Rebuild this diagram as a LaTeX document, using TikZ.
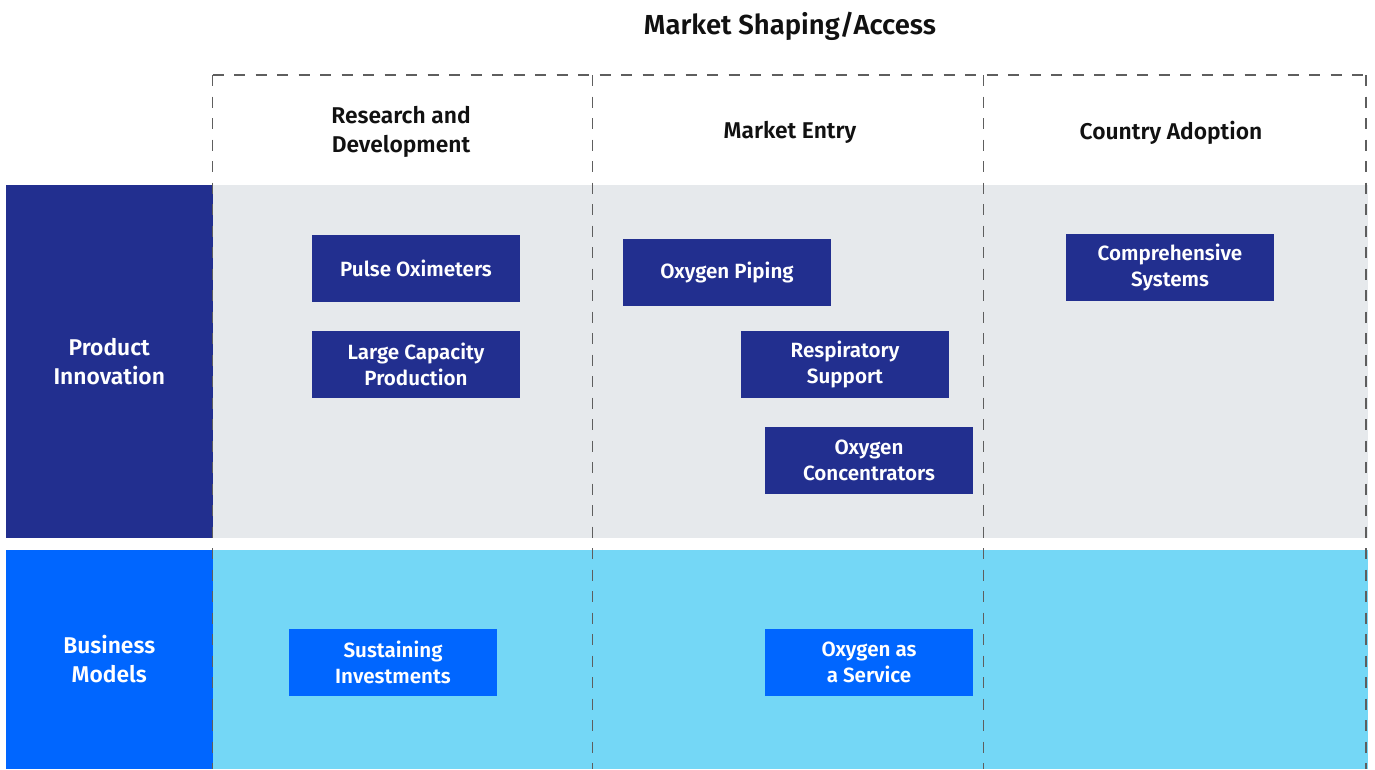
\documentclass[tikz,border=0pt]{standalone}
\usepackage{fontspec}
\setmainfont{Fira Sans}[BoldFont={Fira Sans SemiBold}]
\definecolor{navy}{HTML}{222F8F}
\definecolor{bluebm}{HTML}{0066FF}
\definecolor{cyanband}{HTML}{74D7F6}
\definecolor{greyband}{HTML}{E6E9EC}
\definecolor{dashgrey}{HTML}{5E5E5E}
\definecolor{inkblack}{HTML}{111111}
\tikzset{
  itembox/.style={minimum width=208pt, minimum height=67pt, inner sep=0pt, align=center,
    text=white, font=\bfseries\fontsize{20.6}{26}\selectfont},
  navyitem/.style={itembox, fill=navy},
  blueitem/.style={itembox, fill=bluebm},
  rowbox/.style={minimum width=206.5pt, inner sep=0pt, align=center, text=white,
    font=\bfseries\fontsize{22.8}{29}\selectfont},
  header/.style={align=center, text=inkblack, font=\bfseries\fontsize{22.8}{29}\selectfont},
  dashline/.style={draw=dashgrey, line width=1.3pt, dash pattern=on 11pt off 10.5pt}
}
\begin{document}
\begin{tikzpicture}[x=1pt,y=-1pt]
\useasboundingbox (0,0) rectangle (1375,769);
% bands
\fill[greyband] (212,185) rectangle (1368,538);
\fill[cyanband] (212,550) rectangle (1368,769);
% row labels
\node[rowbox, fill=navy, minimum height=353pt] (pi) at (109.25,361.5) {Product\\Innovation};
\node[rowbox, fill=bluebm, minimum height=219pt] (bm) at (109.25,659.5) {Business\\Models};
% title and headers
\node[header, font=\bfseries\fontsize{27.5}{30}\selectfont] (title) at (790,26.5) {Market Shaping/Access};
\node[header] (rd) at (401,132) {Research and\\Development};
\node[header] (me) at (790,132.5) {Market Entry};
\node[header] (ca) at (1171,132.5) {Country Adoption};
% items
\node[navyitem] (pulse) at (416,268) {Pulse Oximeters};
\node[navyitem] (large) at (416,364.5) {Large Capacity\\Production};
\node[navyitem] (piping) at (727,272) {Oxygen Piping};
\node[navyitem] (resp) at (845,364.5) {Respiratory\\Support};
\node[navyitem] (conc) at (869,460.5) {Oxygen\\Concentrators};
\node[navyitem] (comp) at (1170,267.5) {Comprehensive\\Systems};
\node[blueitem] (sust) at (393,662.5) {Sustaining\\Investments};
\node[blueitem] (oaas) at (869,662.5) {Oxygen as\\a Service};
% dashed column frame
\coordinate (c1b) at (212.5,769);
\coordinate (c1t) at (212.5,75);
\coordinate (c4t) at (1366,75);
\coordinate (c4b) at (1366,769);
\coordinate (c2t) at (592.5,75);
\coordinate (c2b) at (592.5,769);
\coordinate (c3t) at (983.5,75);
\coordinate (c3b) at (983.5,769);
\draw[dashline] (c1t) -- (c4t);
\draw[dashline] (c1t) -- (c1b);
\draw[dashline] (c2t) -- (c2b);
\draw[dashline] (c3t) -- (c3b);
\draw[dashline] (c4t) -- (c4b);
\end{tikzpicture}
\end{document}
